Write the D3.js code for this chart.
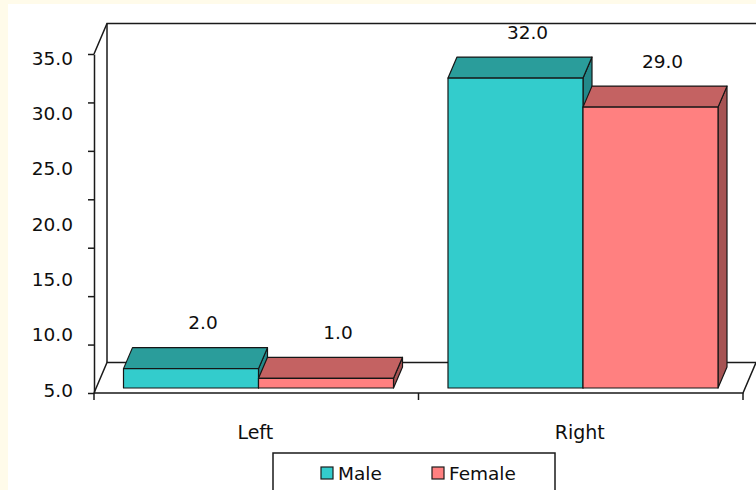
<!DOCTYPE html>
<html>
<head>
<meta charset="utf-8">
<script src="https://cdn.jsdelivr.net/npm/d3@7"></script>
<style>
  html, body { margin: 0; padding: 0; background: #fffbea; }
  svg { display: block; }
  text { font-family: "DejaVu Sans", sans-serif; fill: #0e0e0e; }
</style>
</head>
<body>
<svg id="chart" width="756" height="490"></svg>
<script>
// Data
const categories = ["Left", "Right"];
const series = ["Male", "Female"];
const maleValues = [2.0, 32.0];
const femaleValues = [1.0, 29.0];
const tickValues = [0, 5, 10, 15, 20, 25, 30, 35];
const tickLabels = ["5.0", "10.0", "15.0", "20.0", "25.0", "30.0", "35.0"];
const tickLabelValues = [5, 10, 15, 20, 25, 30, 35];

const colors = {
  Male:   { front: "#33cccc", top: "#2a9d9b", side: "#23898a" },
  Female: { front: "#ff8080", top: "#c46262", side: "#a65353" }
};

const svg = d3.select("#chart");

// panel
svg.append("rect").attr("x", 8).attr("y", 4).attr("width", 760).attr("height", 500)
  .attr("fill", "#ffffff");

// 3D geometry
const floorDepth = { dx: 13, dy: -30.5 };
const barOffset = { dx: 2, dy: -5 };
const barDepth = { dx: 9, dy: -21 };

const y = d3.scaleLinear().domain([0, 35]).range([393, 54]);
const yLabel = d3.scaleLinear().domain([5, 35]).range([390, 58]);
const x = d3.scaleBand().domain(categories).range([94, 743]).padding(0);
const xs = d3.scaleBand().domain(series).range([27.5, 297.5]).padding(0);

const x0 = x.range()[0], x1 = x.range()[1];
const y0 = y(0), yTop = y(35);
const lineCol = "#1a1a1a";

const walls = svg.append("g").attr("fill", "none").attr("stroke", lineCol).attr("stroke-width", 1.5);
// back wall edges
walls.append("path").attr("d", d3.line()([
  [x0, yTop], [x0 + floorDepth.dx, yTop + floorDepth.dy],
  [x1 + floorDepth.dx + 40, yTop + floorDepth.dy]
]));
walls.append("line")
  .attr("x1", x0 + floorDepth.dx).attr("y1", yTop + floorDepth.dy)
  .attr("x2", x0 + floorDepth.dx).attr("y2", y0 + floorDepth.dy);
// floor
walls.append("path").attr("d", d3.line()([
  [x0, y0], [x0 + floorDepth.dx, y0 + floorDepth.dy],
  [x1 + floorDepth.dx, y0 + floorDepth.dy]
]));
walls.append("path").attr("d", d3.line()([
  [x0, y0], [x1, y0], [x1 + floorDepth.dx, y0 + floorDepth.dy]
]));

// y axis
const yAxis = d3.axisLeft(y).tickValues(tickValues).tickSize(6).tickSizeOuter(0).tickFormat("");
const ag = svg.append("g").attr("transform", `translate(${x0},0)`).call(yAxis);
ag.selectAll("path, line").attr("stroke", lineCol).attr("stroke-width", 1.5);

svg.append("g").selectAll("text").data(tickLabelValues).join("text")
  .attr("x", 73).attr("y", d => yLabel(d))
  .attr("text-anchor", "end").attr("dominant-baseline", "central")
  .style("font-size", "18.5px")
  .text((d, i) => tickLabels[i]);

// x axis ticks at category boundaries
const xTicks = categories.map(c => x(c)).concat([x1]);
svg.append("g").selectAll("line").data(xTicks).join("line")
  .attr("x1", d => d).attr("x2", d => d).attr("y1", y0).attr("y2", y0 + 7)
  .attr("stroke", lineCol).attr("stroke-width", 1.5);

svg.append("g").selectAll("text").data(categories).join("text")
  .attr("x", d => x(d) + x.bandwidth() / 2 - 1)
  .attr("y", 439)
  .attr("text-anchor", "middle")
  .style("font-size", "19px")
  .text(d => d);

// bars
const bars = [];
categories.forEach((c, i) => {
  bars.push({ cat: c, s: "Male", v: maleValues[i] });
  bars.push({ cat: c, s: "Female", v: femaleValues[i] });
});

const bg = svg.append("g").attr("stroke", "#161616").attr("stroke-width", 1.2).attr("stroke-linejoin", "round");
bars.forEach(b => {
  const left = x(b.cat) + xs(b.s) + barOffset.dx;
  const right = left + xs.bandwidth();
  const top = y(b.v) + barOffset.dy;
  const bottom = y(0) + barOffset.dy;
  const dx = barDepth.dx, dy = barDepth.dy;
  const c = colors[b.s];
  // side face
  bg.append("path").attr("fill", c.side).attr("d", d3.line()([
    [right, top], [right + dx, top + dy], [right + dx, bottom + dy], [right, bottom]
  ]) + "Z");
  // top face
  bg.append("path").attr("fill", c.top).attr("d", d3.line()([
    [left, top], [left + dx, top + dy], [right + dx, top + dy], [right, top]
  ]) + "Z");
  // front face
  bg.append("rect").attr("fill", c.front)
    .attr("x", left).attr("y", top).attr("width", right - left).attr("height", bottom - top);
});

// value labels
svg.append("g").selectAll("text").data(bars).join("text")
  .attr("x", d => x(d.cat) + xs(d.s) + barOffset.dx + xs.bandwidth() / 2 + 12)
  .attr("y", d => y(d.v) + barOffset.dy - 46)
  .attr("text-anchor", "middle").attr("dominant-baseline", "central")
  .style("font-size", "18.5px")
  .text(d => d3.format(".1f")(d.v));

// legend
const lg = svg.append("g");
lg.append("rect").attr("x", 273).attr("y", 453).attr("width", 282).attr("height", 60)
  .attr("fill", "#ffffff").attr("stroke", lineCol).attr("stroke-width", 1.5);
const legendX = [321, 432];
series.forEach((s, i) => {
  lg.append("rect").attr("x", legendX[i]).attr("y", 467).attr("width", 12).attr("height", 12)
    .attr("fill", colors[s].front).attr("stroke", "#1c1c1c").attr("stroke-width", 1.2);
  lg.append("text").attr("x", legendX[i] + 17).attr("y", 473)
    .attr("dominant-baseline", "central").style("font-size", "18.5px").text(s);
});
</script>
</body>
</html>
